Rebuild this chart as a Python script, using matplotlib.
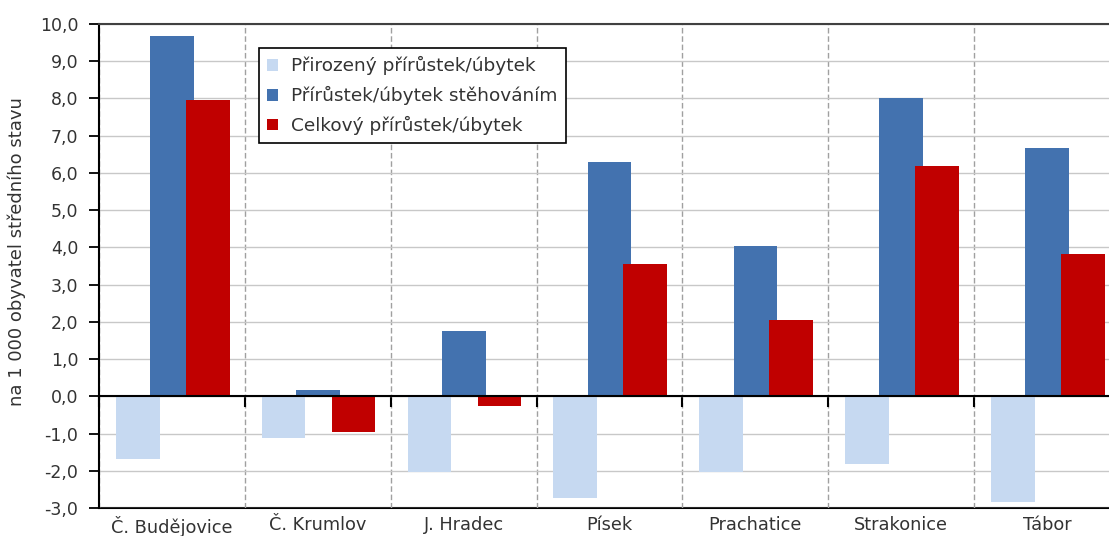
import matplotlib
matplotlib.use("Agg")
import matplotlib.pyplot as plt
import numpy as np

okresy = ['Č. Budějovice', 'Č. Krumlov', 'J. Hradec', 'Písek', 'Prachatice', 'Strakonice', 'Tábor']
prirozeny = [-1.67, -1.13, -2.02, -2.74, -2.02, -1.83, -2.85]
stehovani = [9.68, 0.16, 1.75, 6.29, 4.03, 8.01, 6.67]
celkovy = [7.96, -0.97, -0.27, 3.55, 2.04, 6.18, 3.82]

series = [
    ('Přirozený přírůstek/úbytek', prirozeny, '#C6D9F1'),
    ('Přírůstek/úbytek stěhováním', stehovani, '#4372AF'),
    ('Celkový přírůstek/úbytek', celkovy, '#C00000'),
]
offsets = [-0.235, 0.0, 0.245]
yticks = np.arange(-3, 11, 1)
txt = '#333333'

plt.rcParams['font.family'] = 'DejaVu Sans'
fig = plt.figure(figsize=(11.09, 5.36), dpi=100)
ax = fig.add_axes([0.0893, 0.0522, 0.9207, 0.903])

x = np.arange(len(okresy))
for (name, vals, col), off in zip(series, offsets):
    ax.bar(x + off, vals, width=0.30, color=col, label=name, zorder=3)

ax.set_xlim(-0.5, len(okresy) - 0.5)
ax.set_ylim(-3, 10)
ax.set_yticks(yticks)
ax.set_yticklabels([f'{v:.1f}'.replace('.', ',') for v in yticks], fontsize=12.5, color=txt)
ax.tick_params(axis='y', direction='out', length=7, width=1.3, color='black', pad=8)

# boundaries between districts: zero axis ticks + dashed grid
ax.set_xticks(np.arange(len(okresy) + 1) - 0.5)
ax.set_xticklabels([])
ax.spines['bottom'].set_position(('data', 0))
ax.spines['bottom'].set_linewidth(1.5)
ax.spines['bottom'].set_zorder(4)
ax.tick_params(axis='x', direction='out', length=8, width=1.5, color='black')
ax.grid(axis='x', linestyle=(0, (4, 2)), color='#a0a0a0', linewidth=1.0, zorder=0)
ax.grid(axis='y', linestyle='-', color='#c8c8c8', linewidth=1.0, zorder=0)

sec = ax.secondary_xaxis('bottom')
sec.set_xticks(x)
sec.set_xticklabels(okresy, fontsize=12.8, color=txt)
sec.tick_params(length=0, pad=6)
sec.spines['bottom'].set_linewidth(1.5)

ax.spines['left'].set_linewidth(1.5)
ax.spines['top'].set_color('#404040')
ax.spines['top'].set_linewidth(1.5)
ax.spines['right'].set_visible(False)

ax.set_ylabel('na 1 000 obyvatel středního stavu', fontsize=13, color=txt)
ax.yaxis.set_label_coords(-0.072, 0.53)

leg = ax.legend(loc='upper left', bbox_to_anchor=(0.1567, 0.9504), borderaxespad=0,
                fontsize=13.3, frameon=True, fancybox=False, edgecolor='black', framealpha=1,
                handlelength=0.6, handleheight=0.6, handletextpad=0.7,
                borderpad=0.45, labelspacing=0.58)
leg.get_frame().set_linewidth(1.2)
for t in leg.get_texts():
    t.set_color(txt)

fig.savefig('out.png', dpi=100)
